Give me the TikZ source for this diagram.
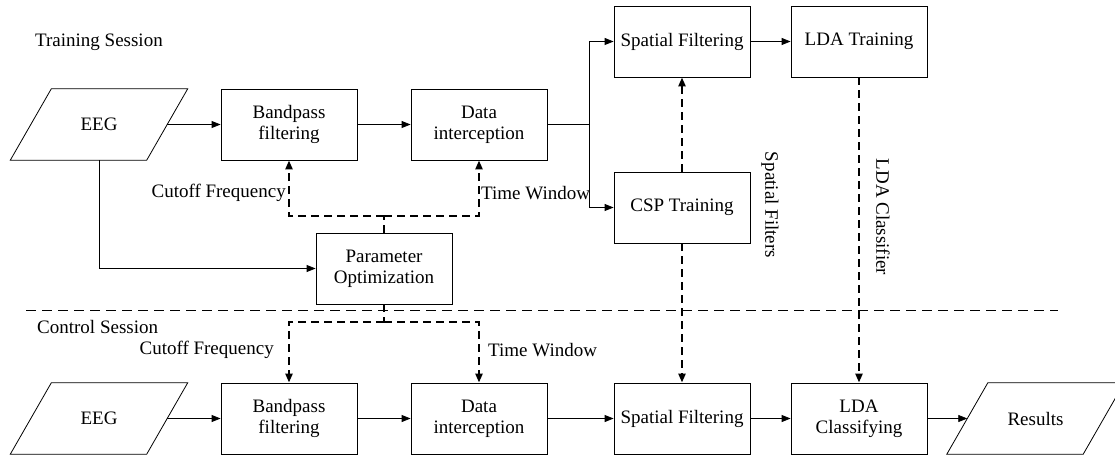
\documentclass[tikz,border=0pt]{standalone}
\usepackage{fontspec}
\setmainfont{Liberation Serif}
\usetikzlibrary{arrows.meta,calc}
\begin{document}
\begin{tikzpicture}[x=1pt,y=-1pt,
  font=\fontsize{19}{21}\selectfont,
  box/.style={draw,line width=0.8pt,minimum width=136pt,minimum height=71pt,align=center,inner sep=0pt},
  iobox/.style={minimum width=136pt,minimum height=71pt,align=center,inner sep=0pt},
  flow/.style={line width=0.8pt,-{Triangle[length=9pt,width=7pt]}},
  plain/.style={line width=0.8pt},
  param/.style={line width=2.4pt,dash pattern=on 8pt off 5pt},
  paramarrow/.style={param,-{Triangle[length=9pt,width=7pt]}},
  sep/.style={line width=1pt,dash pattern=on 10pt off 6pt},
  lbl/.style={inner sep=0pt}]
\useasboundingbox (0,0) rectangle (1115,457);

% training row
\node[iobox] (eeg1) at (99,124.5) {EEG};
\draw[plain] ($(eeg1.north west)+(20.5,0)$) -- ($(eeg1.north east)+(20.5,0)$) -- ($(eeg1.south east)+(-20.5,0)$) -- ($(eeg1.south west)+(-20.5,0)$) -- cycle;
\node[box] (bp1) at (289,124.5) {Bandpass\\filtering};
\node[box] (di1) at (479,124.5) {Data\\interception};
\node[box] (sf1) at (682,41.5) {Spatial Filtering};
\node[box] (ldat) at (859,41.5) {LDA Training};
\node[box] (csp) at (682,207.5) {CSP Training};
\node[box] (po) at (384,268.5) {Parameter\\Optimization};

% control row
\node[iobox] (eeg2) at (99,418.5) {EEG};
\draw[plain] ($(eeg2.north west)+(20.5,0)$) -- ($(eeg2.north east)+(20.5,0)$) -- ($(eeg2.south east)+(-20.5,0)$) -- ($(eeg2.south west)+(-20.5,0)$) -- cycle;
\node[box] (bp2) at (289,418.5) {Bandpass\\filtering};
\node[box] (di2) at (479,418.5) {Data\\interception};
\node[box] (sf2) at (682,418.5) {Spatial Filtering};
\node[box] (ldac) at (859,418.5) {LDA\\Classifying};
\node[iobox] (res) at (1035.5,418.5) {Results};
\draw[plain] ($(res.north west)+(20.5,0)$) -- ($(res.north east)+(20.5,0)$) -- ($(res.south east)+(-20.5,0)$) -- ($(res.south west)+(-20.5,0)$) -- cycle;

% session labels and separator
\node[lbl,anchor=west] (ts) at (35,42) {Training Session};
\node[lbl,anchor=west] (cs) at (37,327) {Control Session};
\coordinate (sepL) at (26,310);
\coordinate (sepR) at (1058,310);
\draw[sep] (sepL) -- (sepR);

% training flow
\draw[flow] (eeg1.east) -- (bp1.west);
\draw[flow] (bp1.east) -- (di1.west);
\coordinate (br) at (589,124.5);
\draw[plain] (di1.east) -- (br);
\draw[flow] (br) |- (sf1.west);
\draw[flow] (br) |- (csp.west);
\draw[flow] (sf1.east) -- (ldat.west);
\draw[flow] (eeg1.south) |- (po.west);

% control flow
\draw[flow] (eeg2.east) -- (bp2.west);
\draw[flow] (bp2.east) -- (di2.west);
\draw[flow] (di2.east) -- (sf2.west);
\draw[flow] (sf2.east) -- (ldac.west);
\draw[flow] (ldac.east) -- (res.west);

% parameter connectors
\coordinate (pt) at (384,216);
\draw[param] (po.north) -- (pt);
\draw[paramarrow] (pt) -| (bp1.south);
\draw[paramarrow] (pt) -| (di1.south);
\coordinate (pb) at (384,322);
\draw[param] (po.south) -- (pb);
\draw[paramarrow] (pb) -| (bp2.north);
\draw[paramarrow] (pb) -| (di2.north);

\draw[paramarrow] (csp.north) -- (sf1.south);
\draw[paramarrow] (csp.south) -- (sf2.north);
\draw[paramarrow] (ldat.south) -- (ldac.north);

% labels
\node[lbl,anchor=east] (cf1) at (286,193) {Cutoff Frequency};
\node[lbl,anchor=west] (tw1) at (481,193) {Time Window};
\node[lbl,anchor=east] (cf2) at (274,350) {Cutoff Frequency};
\node[lbl,anchor=west] (tw2) at (488,350) {Time Window};
\node[lbl,rotate=-90] (spf) at (770,205) {Spatial Filters};
\node[lbl,rotate=-90] (ldacl) at (883,217) {LDA Classifier};
\end{tikzpicture}
\end{document}
